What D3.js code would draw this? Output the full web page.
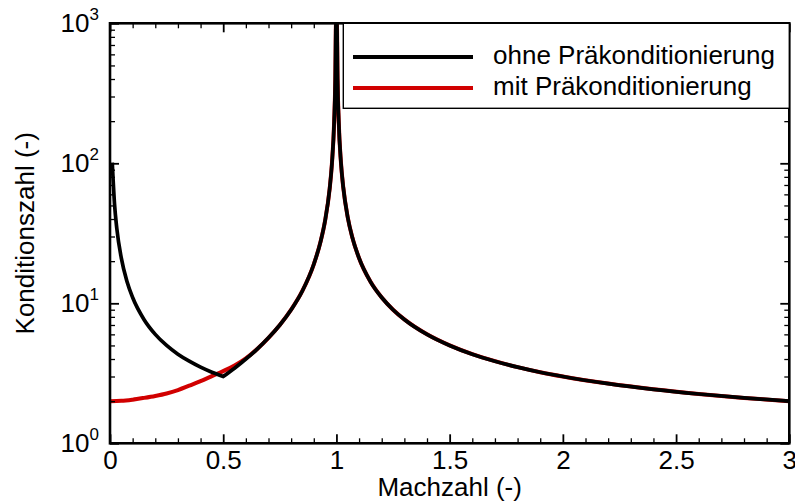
<!DOCTYPE html>
<html>
<head>
<meta charset="utf-8">
<script src="https://cdn.jsdelivr.net/npm/d3@7/dist/d3.min.js"></script>
<style>
  html, body { margin: 0; padding: 0; background: #fff; }
  svg { display: block; }
  text { font-family: "Liberation Sans", Arial, Helvetica, sans-serif; fill: #000; }
</style>
</head>
<body>
<svg id="chart" width="795" height="504"></svg>
<script>
// Mach number samples and condition numbers, without preconditioning
const machOhne = [0.01, 0.02, 0.03, 0.05, 0.075, 0.1, 0.15, 0.2, 0.25, 0.3, 0.35, 0.4, 0.45, 0.5,
  0.55, 0.6, 0.65, 0.7, 0.75, 0.8, 0.85, 0.9, 0.93, 0.95, 0.97, 0.98, 0.99, 0.995, 0.998, 1.0,
  1.002, 1.005, 1.01, 1.02, 1.03, 1.05, 1.07, 1.1, 1.15, 1.2, 1.25, 1.3, 1.4, 1.5, 1.6, 1.7, 1.8,
  1.9, 2.0, 2.2, 2.4, 2.6, 2.8, 3.0];
const kappaOhne = [101, 51, 34.3, 21, 14.3, 11, 7.67, 6, 5, 4.33, 3.86, 3.5, 3.22, 3.0,
  3.44, 4.0, 4.71, 5.67, 7, 9, 12.3, 19, 27.6, 39, 65.7, 99, 199, 399, 999, 1000,
  1001, 401, 201, 101, 67.7, 41, 29.6, 21, 14.3, 11, 9, 7.67, 6, 5, 4.33, 3.86, 3.5,
  3.22, 3.0, 2.67, 2.43, 2.25, 2.11, 2.0];
const kinksOhne = [0.5, 1.0];

// with preconditioning
const machMit = [0, 0.05, 0.1, 0.15, 0.2, 0.25, 0.3, 0.35, 0.4, 0.45, 0.5, 0.55, 0.6, 0.65, 0.7,
  0.75, 0.8, 0.85, 0.9, 0.93, 0.95, 0.97, 0.98, 0.99, 0.995, 0.998, 1.0,
  1.002, 1.005, 1.01, 1.02, 1.03, 1.05, 1.07, 1.1, 1.15, 1.2, 1.25, 1.3, 1.4, 1.5, 1.6, 1.7, 1.8,
  1.9, 2.0, 2.2, 2.4, 2.6, 2.8, 3.0];
const kappaMit = [2.0, 2.01, 2.05, 2.11, 2.18, 2.27, 2.40, 2.58, 2.78, 3.02, 3.28, 3.60, 4.05, 4.72, 5.67,
  7, 9, 12.3, 19, 27.6, 39, 65.7, 99, 199, 399, 999, 1000,
  1001, 401, 201, 101, 67.7, 41, 29.6, 21, 14.3, 11, 9, 7.67, 6, 5, 4.33, 3.86, 3.5,
  3.22, 3.0, 2.67, 2.43, 2.25, 2.11, 2.0];
const kinksMit = [1.0];

const xMajor = [0, 0.5, 1, 1.5, 2, 2.5, 3];
const xMajorLabels = ["0", "0.5", "1", "1.5", "2", "2.5", "3"];
const yDecades = [1, 10, 100, 1000];
const yExponents = ["0", "1", "2", "3"];

const seriesNames = ["ohne Präkonditionierung", "mit Präkonditionierung"];
const seriesColors = ["#000000", "#d10000"];

const svg = d3.select("#chart");
const mLeft = 110, mRight = 789.3, mTop = 23.3, mBottom = 443.3;

const x = d3.scaleLinear().domain([0, 3]).range([mLeft, mRight]);
const y = d3.scaleLog().domain([1, 1000]).range([mBottom, mTop]);

const xMinor = d3.range(0, 31).map(i => i / 10).filter(v => !xMajor.some(m => Math.abs(m - v) < 1e-9));
const yMinor = [];
yDecades.slice(0, -1).forEach(d => { for (let k = 2; k <= 9; k++) yMinor.push(d * k); });

svg.append("defs").append("clipPath").attr("id", "plotClip")
  .append("rect").attr("x", mLeft).attr("y", mTop).attr("width", mRight - mLeft).attr("height", mBottom - mTop);

// Smooth curve that stays sharp at the given kink positions:
// each piece is smoothed on its own, and the pieces are chained into one path.
function kinkedPath(mach, kappa, kinks) {
  const pts = d3.zip(mach, kappa);
  const pieces = [];
  let cur = [];
  pts.forEach(p => {
    cur.push(p);
    if (kinks.some(k => Math.abs(k - p[0]) < 1e-9)) { pieces.push(cur); cur = [p]; }
  });
  if (cur.length > 1) pieces.push(cur);
  const ctx = d3.path();
  let started = false;
  const chain = {
    moveTo(a, b) { if (!started) { ctx.moveTo(a, b); started = true; } },
    lineTo(a, b) { ctx.lineTo(a, b); },
    bezierCurveTo(a, b, c, d, e, f) { ctx.bezierCurveTo(a, b, c, d, e, f); },
    closePath() {}
  };
  const gen = d3.line().x(d => x(d[0])).y(d => y(d[1])).curve(d3.curveMonotoneX).context(chain);
  pieces.forEach(p => gen(p));
  return ctx.toString();
}

// curves
const plot = svg.append("g").attr("clip-path", "url(#plotClip)");
plot.append("path")
  .attr("d", kinkedPath(machMit, kappaMit, kinksMit)).attr("fill", "none")
  .attr("stroke", seriesColors[1]).attr("stroke-width", 4).attr("stroke-linejoin", "miter");
plot.append("path")
  .attr("d", kinkedPath(machOhne, kappaOhne, kinksOhne)).attr("fill", "none")
  .attr("stroke", seriesColors[0]).attr("stroke-width", 3.7).attr("stroke-linejoin", "miter");

// axes with inward ticks on all four sides
function styleAxis(g, w) {
  g.select(".domain").remove();
  g.selectAll(".tick line").attr("stroke", "#000").attr("stroke-width", w);
}
svg.append("g").attr("transform", `translate(0,${mBottom})`)
  .call(d3.axisBottom(x).tickValues(xMinor).tickSize(-5).tickFormat(""))
  .call(g => styleAxis(g, 1.3));
svg.append("g").attr("transform", `translate(0,${mBottom})`)
  .call(d3.axisBottom(x).tickValues(xMajor).tickSize(-9).tickPadding(7)
    .tickFormat((d, i) => xMajorLabels[i]))
  .call(g => styleAxis(g, 1.8))
  .call(g => g.selectAll(".tick text").attr("font-size", 26)
    .attr("font-family", "'Liberation Sans', Arial, sans-serif").attr("fill", "#000"));
svg.append("g").attr("transform", `translate(0,${mTop})`)
  .call(d3.axisTop(x).tickValues(xMinor).tickSize(-5).tickFormat(""))
  .call(g => styleAxis(g, 1.3));
svg.append("g").attr("transform", `translate(0,${mTop})`)
  .call(d3.axisTop(x).tickValues(xMajor).tickSize(-9).tickFormat(""))
  .call(g => styleAxis(g, 1.8));

svg.append("g").attr("transform", `translate(${mLeft},0)`)
  .call(d3.axisLeft(y).tickValues(yMinor).tickSize(-5).tickFormat(""))
  .call(g => styleAxis(g, 1.3));
svg.append("g").attr("transform", `translate(${mLeft},0)`)
  .call(d3.axisLeft(y).tickValues(yDecades).tickSize(-9).tickFormat(""))
  .call(g => styleAxis(g, 1.8));
svg.append("g").attr("transform", `translate(${mRight},0)`)
  .call(d3.axisRight(y).tickValues(yMinor).tickSize(-5).tickFormat(""))
  .call(g => styleAxis(g, 1.3));
svg.append("g").attr("transform", `translate(${mRight},0)`)
  .call(d3.axisRight(y).tickValues(yDecades).tickSize(-9).tickFormat(""))
  .call(g => styleAxis(g, 1.8));

// y tick labels as powers of ten
const yLab = svg.append("g");
yDecades.forEach((d, i) => {
  const t = yLab.append("text")
    .attr("x", 99).attr("y", y(d) + 8.5)
    .attr("text-anchor", "end").attr("font-size", 26);
  t.append("tspan").text("10");
  t.append("tspan").attr("font-size", 17).attr("dy", -11.5).text(yExponents[i]);
});

// frame
svg.append("rect")
  .attr("x", mLeft).attr("y", mTop).attr("width", mRight - mLeft).attr("height", mBottom - mTop)
  .attr("fill", "none").attr("stroke", "#000").attr("stroke-width", 2.6);

// axis titles
svg.append("text").attr("x", (mLeft + mRight) / 2).attr("y", 496)
  .attr("text-anchor", "middle").attr("font-size", 26).text("Machzahl (-)");
svg.append("text").attr("transform", `translate(34,${(mTop + mBottom) / 2}) rotate(-90)`)
  .attr("text-anchor", "middle").attr("font-size", 26).text("Konditionszahl (-)");

// legend
const lg = svg.append("g");
lg.append("rect").attr("x", 343.3).attr("y", mTop).attr("width", mRight - 343.3).attr("height", 108.3 - mTop)
  .attr("fill", "#fff").attr("stroke", "#000").attr("stroke-width", 1.4);
const legendY = [57, 88];
seriesNames.forEach((name, i) => {
  lg.append("line").attr("x1", 353).attr("x2", 473).attr("y1", legendY[i]).attr("y2", legendY[i])
    .attr("stroke", seriesColors[i]).attr("stroke-width", 4);
  lg.append("text").attr("x", 493).attr("y", legendY[i] + 6.8)
    .attr("font-size", 26).text(name);
});
</script>
</body>
</html>
